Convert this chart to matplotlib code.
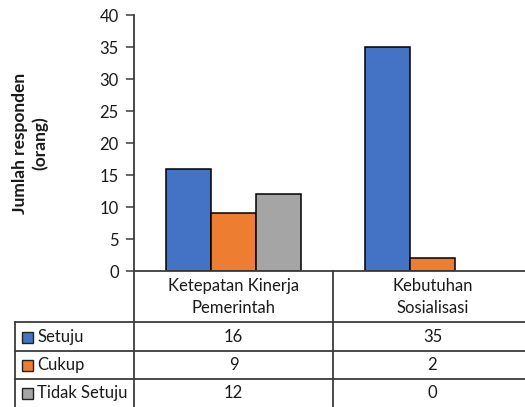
import matplotlib
matplotlib.use("Agg")
import matplotlib.pyplot as plt
from matplotlib.transforms import blended_transform_factory
from matplotlib.patches import Rectangle

categories = ["Ketepatan Kinerja\nPemerintah", "Kebutuhan\nSosialisasi"]
series_names = ["Setuju", "Cukup", "Tidak Setuju"]
setuju = [16, 35]
cukup = [9, 2]
tidak_setuju = [12, 0]
series_values = [setuju, cukup, tidak_setuju]
colors = ["#4472C4", "#ED7D31", "#A5A5A5"]
y_ticks = [0, 5, 10, 15, 20, 25, 30, 35, 40]

plt.rcParams["font.family"] = ["Lato", "DejaVu Sans"]
W, H = 525, 407
fig = plt.figure(figsize=(W / 100, H / 100), dpi=100)

def fy(py):
    return 1 - py / H

def fx(px):
    return px / W

line_c = "#3c3c3c"
text_c = "#1a1a1a"
ax = fig.add_axes([fx(134), fy(271), fx(532) - fx(134), fy(15) - fy(271)])
n = len(series_names)
bw = 0.226
for i, (name, vals, c) in enumerate(zip(series_names, series_values, colors)):
    xs = [k + (i - (n - 1) / 2) * bw for k in range(len(categories))]
    lws = [1.1 if v > 0 else 0 for v in vals]
    ax.bar(xs, vals, width=bw, color=c, edgecolor="black", linewidth=lws, zorder=3)

ax.set_xlim(-0.5, len(categories) - 0.5)
ax.set_ylim(0, 40)
ax.set_yticks(y_ticks)
ax.set_xticks([])
for s in ["top", "right", "left"]:
    ax.spines[s].set_visible(False)
ax.spines["bottom"].set_color(line_c)
ax.spines["bottom"].set_linewidth(1.3)
ax.spines["bottom"].set_zorder(4)
ax.tick_params(axis="y", direction="out", length=6, width=1.1, color=line_c,
               labelsize=12, labelcolor=text_c, pad=5)
fig.text(fx(30), fy(143), "Jumlah responden\n(orang)", rotation=90, ha="center",
         va="center", fontsize=12.5, fontweight="bold", linespacing=1.25,
         multialignment="center", color=text_c)

# data table below the axes
tr = blended_transform_factory(ax.transData, fig.transFigure)
lw = 1.3
# y axis line running down through the table
fig.add_artist(plt.Line2D([fx(134), fx(134)], [fy(15), -0.02], color=line_c, lw=lw))
# divider between categories
for k in range(1, len(categories)):
    fig.add_artist(plt.Line2D([k - 0.5, k - 0.5], [fy(271), -0.02], color=line_c, lw=lw,
                              transform=tr))
row_lines = [322, 351, 379]
for py in row_lines:
    fig.add_artist(plt.Line2D([fx(15), 1.02], [fy(py), fy(py)], color=line_c, lw=lw))
fig.add_artist(plt.Line2D([fx(15), fx(15)], [fy(322), -0.02], color=line_c, lw=lw))

for k, cat in enumerate(categories):
    fig.text(k, fy(297), cat, transform=tr, ha="center", va="center", fontsize=12,
             linespacing=1.45, color=text_c)

row_centers = [337, 365, 393]
for name, vals, c, py in zip(series_names, series_values, colors, row_centers):
    fig.add_artist(Rectangle((fx(22), fy(py + 5.5)), fx(11), 11 / H, facecolor=c,
                             edgecolor="#222222", lw=1.0, transform=fig.transFigure))
    fig.text(fx(37), fy(py), name, ha="left", va="center", fontsize=12, color=text_c)
    for k, v in enumerate(vals):
        fig.text(k, fy(py), str(v), transform=tr, ha="center", va="center", fontsize=12,
                 color=text_c)

fig.savefig("out.png", dpi=100)
